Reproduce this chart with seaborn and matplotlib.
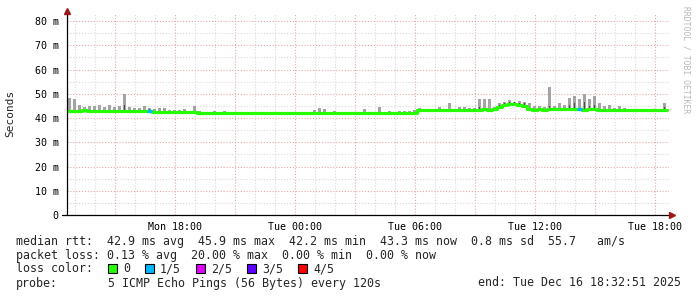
import matplotlib
matplotlib.use("Agg")
import matplotlib.pyplot as plt
import seaborn as sns
import pandas as pd
import numpy as np

# ---------------- data ----------------
t_start = 12.6          # hours since Mon 00:00 (first bin)
bin_h = 0.25            # 15-minute bins

median_ms = [
    43.0, 42.9, 43.0, 43.1, 42.9, 43.0, 43.0, 42.9, 43.0,
    42.9, 42.8, 42.9, 42.8, 42.8, 42.9, 42.7, 42.8,
    42.5, 42.5, 42.4, 42.5, 42.4, 42.4, 42.3, 42.3, 42.3, 42.2,
    42.2, 42.2, 42.2, 42.2, 42.2, 42.2, 42.2, 42.2, 42.2, 42.2,
    42.2, 42.2, 42.2, 42.2, 42.2, 42.2, 42.2, 42.2, 42.2, 42.2,
    42.2, 42.2, 42.2, 42.2, 42.2, 42.2, 42.2, 42.2, 42.2, 42.2,
    42.2, 42.2, 42.2, 42.2, 42.2, 42.2, 42.2, 42.2, 42.2, 42.2,
    42.2, 42.2, 42.2,
    43.2, 43.2, 43.2, 43.2, 43.2, 43.2, 43.2,
    43.4, 43.4, 43.5, 43.4, 43.5, 43.4, 43.6, 43.5,
    43.6, 44.5, 45.2, 45.6, 45.9, 45.3, 45.0, 43.8,
    43.4, 43.6, 43.5, 43.8, 43.6, 43.9, 43.7, 43.8, 43.6, 43.7, 43.5, 43.8, 43.6, 43.5,
    43.4, 43.3, 43.3, 43.3, 43.3, 43.3, 43.3, 43.3, 43.3, 43.3, 43.3, 43.3, 43.3,
]

smoke_max_ms = [
    48.2, 47.8, 45.5, 44.6, 45.0, 44.8, 45.2, 44.6, 45.5, 44.5,
    45.0, 50.0, 44.5, 44.0, 44.3, 44.8, 44.0, 43.6, 44.0, 44.2,
    43.5, 43.2, 43.5, 43.8, 43.0, 45.0, 42.8, 42.2, 42.2, 42.8,
    42.2, 43.0, 42.2, 42.2, 42.2, 42.2, 42.2, 42.2, 42.2, 42.2,
    42.2, 42.2, 42.2, 42.2, 42.2, 42.2, 42.2, 42.2, 42.2, 43.2,
    44.0, 43.6, 42.2, 43.0, 42.2, 42.2, 42.2, 42.2, 42.2, 43.6,
    42.2, 42.2, 44.7, 42.2, 42.8, 42.2, 42.8, 43.0, 42.8, 43.5,
    44.2, 43.5, 43.6, 43.5, 44.5, 43.8, 46.3, 43.8, 44.7, 44.6,
    44.2, 44.0, 47.8, 47.8, 47.8, 44.5, 46.0, 46.8, 47.4, 46.8,
    47.0, 46.8, 46.0, 45.0, 44.8, 44.5, 52.9, 44.8, 46.3, 45.5,
    48.1, 49.2, 48.0, 49.8, 48.0, 49.2, 46.0, 45.0, 45.5, 44.2,
    45.0, 44.0, 43.6, 43.5, 43.3, 43.5, 43.3, 43.4, 43.3, 46.2,
]

dark_bins = [11, 16, 82, 86, 87, 88, 89, 90, 91, 96, 100, 101, 103, 104, 105, 119]
dark_top_ms = [45.5, 43.6, 44.5, 45.5, 46.2, 46.6, 46.8, 46.3, 46.0, 45.0, 45.5, 46.0, 46.5, 45.0, 45.5, 44.5]

loss_bins = [16, 102]
loss_level = [1, 1]

y_ticks = [0, 10, 20, 30, 40, 50, 60, 70, 80]
y_tick_labels = ["0", "10 m", "20 m", "30 m", "40 m", "50 m", "60 m", "70 m", "80 m"]
x_ticks = [18, 24, 30, 36, 42]
x_tick_labels = ["Mon 18:00", "Tue 00:00", "Tue 06:00", "Tue 12:00", "Tue 18:00"]

loss_colors = ["#26ff00", "#00b8ff", "#dd00ff", "#5e00ff", "#ff0000"]
loss_names = ["0", "1/5", "2/5", "3/5", "4/5"]

legend_rtt = "median rtt:  42.9 ms avg  45.9 ms max  42.2 ms min  43.3 ms now  0.8 ms sd  55.7   am/s"
legend_loss = "packet loss: 0.13 % avg  20.00 % max  0.00 % min  0.00 % now"
legend_probe = "5 ICMP Echo Pings (56 Bytes) every 120s"
legend_end = "end: Tue Dec 16 18:32:51 2025"

# ---------------- figure ----------------
W, H = 697, 297
sns.set_style("white")
plt.rcParams["font.family"] = ["DejaVu Sans Mono", "DejaVu Sans"]

fig = plt.figure(figsize=(W / 100, H / 100), dpi=100)
fig.patch.set_facecolor("white")

def px(x, y):
    return x / W, 1 - y / H

ax = fig.add_axes([67 / W, (H - 215) / H, 602 / W, 202 / H])
ax.set_facecolor("white")
ax.set_xlim(12.6, 42.7)
ax.set_ylim(0, 83.3)
for s in ax.spines.values():
    s.set_visible(False)

# grid
for h in range(13, 43):
    major = (h % 3 == 0)
    ax.axvline(h, color="#e4a8a8" if major else "#d8d8d8", lw=0.8,
               ls=(0, (1, 1.6)), zorder=0)
for v in range(5, 81, 5):
    major = (v % 10 == 0)
    ax.axhline(v, color="#e4a8a8" if major else "#d8d8d8", lw=0.8,
               ls=(0, (1, 1.6)), zorder=0)

n = len(median_ms)
t = [t_start + bin_h * i for i in range(n)]
tc = [ti + bin_h / 2 for ti in t]

# smoke (light)
for i in range(n):
    if smoke_max_ms[i] > median_ms[i] + 0.05:
        ax.bar(tc[i], smoke_max_ms[i] - median_ms[i], bottom=median_ms[i],
               width=0.11, color="#a4a4a4", linewidth=0, zorder=2)
# smoke (dark)
for b, top in zip(dark_bins, dark_top_ms):
    ax.bar(tc[b], top - median_ms[b], bottom=median_ms[b], width=0.08,
           color="#4a4a4a", linewidth=0, zorder=3)

# median line (seaborn)
df = pd.DataFrame({"t": t + [t_start + bin_h * n], "median": median_ms + [median_ms[-1]]})
sns.lineplot(data=df, x="t", y="median", drawstyle="steps-post",
             color=loss_colors[0], linewidth=2.3, estimator=None, ax=ax, zorder=4)

for b, lv in zip(loss_bins, loss_level):
    ax.plot([t[b], t[b] + bin_h], [median_ms[b], median_ms[b]],
            color=loss_colors[lv], lw=2.3, solid_capstyle="butt", zorder=5)

# axes lines and arrows
ax.plot([12.6, 12.6], [0, 83.3], color="black", lw=0.9, clip_on=False, zorder=6)
ax.plot([12.35, 42.85], [0, 0], color="black", lw=0.9, clip_on=False, zorder=6)
ax.plot([12.6], [84.2], marker="^", color="#9a1a1a", ms=4, clip_on=False, zorder=7)
ax.plot([42.85], [0], marker=">", color="#9a1a1a", ms=4, clip_on=False, zorder=7)

ax.set_xticks(x_ticks)
ax.set_xticklabels(x_tick_labels, fontsize=7.2)
ax.set_yticks(y_ticks)
ax.set_yticklabels(y_tick_labels, fontsize=7.2)
ax.tick_params(axis="both", length=0, pad=5, colors="black")
ax.tick_params(axis="y", pad=6)
ax.set_xlabel("")
ax.set_ylabel("")

# y label
fig.text(*px(10, 113), "Seconds", rotation=90, ha="center", va="center", fontsize=8)
# watermark
fig.text(*px(686, 60), "RRDTOOL / TOBI OETIKER", rotation=270, ha="center",
         va="center", fontsize=5.8, color="#b8b8b8")

# legend text
fs = 8.4
fig.text(*px(16, 241), legend_rtt, fontsize=fs, ha="left", va="center")
fig.text(*px(16, 255), legend_loss, fontsize=fs, ha="left", va="center")
fig.text(*px(16, 269), "loss color:", fontsize=fs, ha="left", va="center")
sq_x = [108, 145, 196, 247, 298]
txt_x = [123, 160, 211, 262, 313]
for c, name, sx, tx in zip(loss_colors, loss_names, sq_x, txt_x):
    x0, y0 = px(sx, 273)
    fig.patches.append(plt.Rectangle((x0, y0), 9 / W, 9 / H, transform=fig.transFigure,
                                     facecolor=c, edgecolor="black", lw=0.8))
    fig.text(*px(tx, 269), name, fontsize=fs, ha="left", va="center")
fig.text(*px(16, 283), "probe:", fontsize=fs, ha="left", va="center")
fig.text(*px(108, 283), legend_probe, fontsize=fs, ha="left", va="center")
fig.text(*px(681, 283), legend_end, fontsize=fs, ha="right", va="center")

fig.savefig("out.png", dpi=100, facecolor="white")
